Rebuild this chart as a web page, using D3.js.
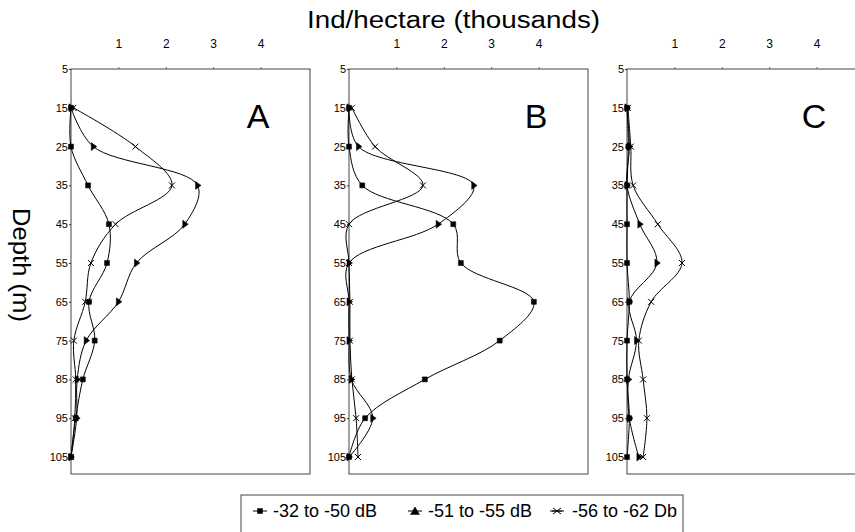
<!DOCTYPE html>
<html>
<head>
<meta charset="utf-8">
<script src="https://cdn.jsdelivr.net/npm/d3@7"></script>
<style>
  body { margin: 0; background: #fff; }
  text { font-family: "Liberation Sans", Arial, sans-serif; fill: #000; }
  .tick text { font-family: "Liberation Sans Narrow", "Liberation Sans", Arial, sans-serif; }
</style>
</head>
<body>
<div id="chart"></div>
<script>
// depths sampled (m)
const depths = [15, 25, 35, 45, 55, 65, 75, 85, 95, 105];
const depthTicks = [5, 15, 25, 35, 45, 55, 65, 75, 85, 95, 105];
const densityTicks = [1, 2, 3, 4];

const panelNames = ["A", "B", "C"];
const seriesNames = ["-32 to -50 dB", "-51 to -55 dB", "-56 to -62 Db"];

// Ind/hectare (thousands) per depth
const panelA_s1 = [0, 0, 0.36, 0.8, 0.76, 0.38, 0.5, 0.25, 0.1, 0];
const panelA_s2 = [0, 0.47, 2.67, 2.4, 1.38, 1.0, 0.32, 0.13, 0.12, 0];
const panelA_s3 = [0.05, 1.36, 2.13, 0.94, 0.42, 0.3, 0.06, 0.1, 0.08, 0];

const panelB_s1 = [0, 0, 0.28, 2.2, 2.36, 3.9, 3.18, 1.6, 0.34, 0];
const panelB_s2 = [0, 0.2, 2.63, 1.88, 0, 0, 0, 0.05, 0.5, 0];
const panelB_s3 = [0.06, 0.55, 1.56, 0, 0, 0.02, 0.02, 0.06, 0.15, 0.19];

const panelC_s1 = [0, 0.03, 0, 0, 0, 0.05, 0, 0, 0.05, 0];
const panelC_s2 = [0, 0.05, 0, 0.27, 0.63, 0.05, 0.2, 0.03, 0.05, 0.25];
const panelC_s3 = [0.02, 0.08, 0.13, 0.65, 1.16, 0.51, 0.25, 0.34, 0.42, 0.34];

const panelData = [
    [panelA_s1, panelA_s2, panelA_s3],
    [panelB_s1, panelB_s2, panelB_s3],
    [panelC_s1, panelC_s2, panelC_s3]
];

const width = 855, height = 532;
const panelLefts = [71, 349, 627];
const panelWidth = 239;
const plotTop = 69, plotBottom = 474;

const svg = d3.select("#chart").append("svg")
    .attr("width", width)
    .attr("height", height)
    .attr("viewBox", [0, 0, width, height]);

const yScale = d3.scaleLinear([5, 105], [plotTop, 457]);

const lineGen = d3.line()
    .x(d => d.x)
    .y(d => d.y)
    .curve(d3.curveCatmullRom.alpha(0.5));

panelNames.forEach((name, p) => {
    const left = panelLefts[p];
    const xScale = d3.scaleLinear([0, panelWidth / 47.4], [left, left + panelWidth]);
    const g = svg.append("g");

    g.append("rect")
        .attr("x", left).attr("y", plotTop)
        .attr("width", panelWidth).attr("height", plotBottom - plotTop)
        .attr("fill", "none").attr("stroke", "#444").attr("stroke-width", 1);

    const topAxis = g.append("g")
        .attr("transform", `translate(0, ${plotTop})`)
        .call(d3.axisTop(xScale).tickValues(densityTicks).tickFormat(d3.format("d"))
            .tickSizeInner(2).tickSizeOuter(0).tickPadding(19));
    topAxis.select(".domain").remove();
    topAxis.selectAll("line").attr("stroke", "#666");
    topAxis.selectAll("text").attr("font-size", 12);

    const leftAxis = g.append("g")
        .attr("transform", `translate(${left}, 0)`)
        .call(d3.axisLeft(yScale).tickValues(depthTicks).tickSizeInner(2).tickSizeOuter(0).tickPadding(1));
    leftAxis.select(".domain").remove();
    leftAxis.selectAll("line").attr("stroke", "#333");
    leftAxis.selectAll("text").attr("font-size", 11);

    g.append("text")
        .attr("x", left + 187).attr("y", 128)
        .attr("text-anchor", "middle")
        .attr("font-size", 34)
        .text(name);

    panelData[p].forEach((values, s) => {
        const pts = depths.map((d, i) => ({ x: xScale(values[i]), y: yScale(d) }));

        g.append("path")
            .attr("fill", "none")
            .attr("stroke", "#000")
            .attr("stroke-width", 1)
            .attr("d", lineGen(pts));

        g.selectAll(null).data(pts).join("path")
            .attr("transform", d => `translate(${d.x}, ${d.y})`)
            .attr("d", markerPath(s, false))
            .attr("fill", s == 2 ? "none" : "#000")
            .attr("stroke", "#000")
            .attr("stroke-width", s == 2 ? 1 : 0.5);
    });
});

function markerPath(s, legend) {
    if (s == 0) return "M-2.5,-2.5H2.5V2.5H-2.5Z";
    if (s == 1) return legend ? "M0,-4L4.5,3.5H-4.5Z" : "M-2,-4L3.5,0L-2,4Z";
    return legend ? "M-4,-3L4,3M-4,3L4,-3M-5,0H5" : "M-3,-3L3,3M-3,3L3,-3";
}

// axis titles
svg.append("text")
    .attr("x", 307).attr("y", 28)
    .attr("font-size", 23)
    .attr("textLength", 293)
    .attr("lengthAdjust", "spacingAndGlyphs")
    .text("Ind/hectare (thousands)");

svg.append("text")
    .attr("transform", "translate(13, 265) rotate(90)")
    .attr("text-anchor", "middle")
    .attr("font-size", 23)
    .attr("textLength", 114)
    .attr("lengthAdjust", "spacingAndGlyphs")
    .text("Depth (m)");

// legend
const legendX = [260, 415, 557];
const legendTextX = [273, 428, 572];
const legend = svg.append("g");
legend.append("rect")
    .attr("x", 241).attr("y", 495)
    .attr("width", 442).attr("height", 40)
    .attr("fill", "none").attr("stroke", "#444").attr("stroke-width", 1);

seriesNames.forEach((name, s) => {
    legend.append("line")
        .attr("x1", legendX[s] - 7).attr("x2", legendX[s] + 7)
        .attr("y1", 511).attr("y2", 511)
        .attr("stroke", "#000");
    legend.append("path")
        .attr("transform", `translate(${legendX[s]}, 511)`)
        .attr("d", markerPath(s, true))
        .attr("fill", s == 2 ? "none" : "#000")
        .attr("stroke", "#000")
        .attr("stroke-width", s == 2 ? 1 : 0.5);
    legend.append("text")
        .attr("x", legendTextX[s]).attr("y", 517)
        .attr("font-size", 18)
        .text(name);
});
</script>
</body>
</html>
